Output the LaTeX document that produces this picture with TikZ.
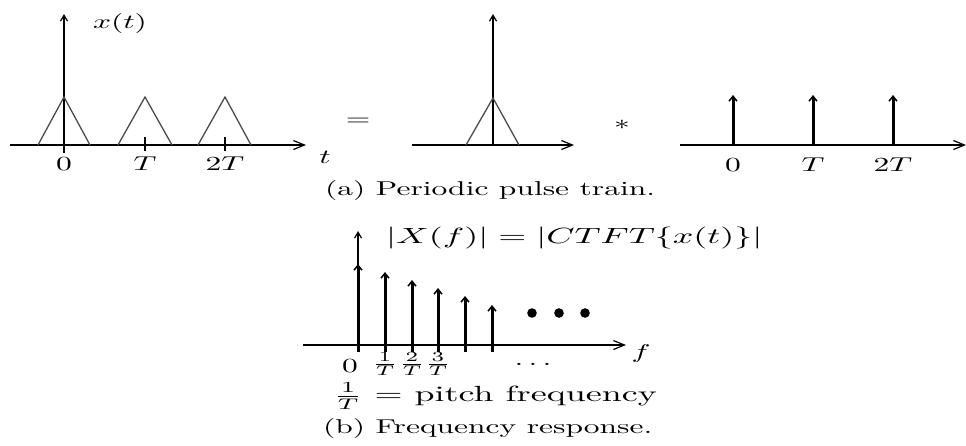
\documentclass[tikz,border=0pt]{standalone}
\usepackage{amsmath}
\usepackage{graphicx}
\usetikzlibrary{arrows.meta}
\newcommand{\tx}[1]{\scalebox{3.15}[2.0]{#1}}
\newcommand{\txl}[1]{\scalebox{3.6}[2.2]{#1}}
\begin{document}
\begin{tikzpicture}[x=1pt,y=-1pt,
  haxis/.style={line width=1.2pt, -{Straight Barb[length=11pt,width=9pt,line width=1.2pt]}},
  vaxis/.style={line width=1.2pt, -{Straight Barb[length=6pt,width=7pt,line width=1.2pt]}},
  imp/.style={line width=3pt, -{Straight Barb[length=5pt,width=8pt,line width=1.5pt]}},
  tri/.style={line width=1.3pt, draw=black!70},
  tick/.style={line width=1.2pt},
  lbl/.style={inner sep=0pt}]
\useasboundingbox (0,0) rectangle (966,445);
% ---------- panel 1
\coordinate (p1l) at (10,145); \coordinate (p1r) at (306,145);
\coordinate (p1b) at (64,153); \coordinate (p1t) at (64,14);
\draw[haxis] (p1l) -- (p1r);
\draw[vaxis] (p1b) -- (p1t);
\draw[tri] (38,145) -- (64,97) -- (90,145);
\draw[tri] (118,145) -- (145,97) -- (172,145);
\draw[tri] (198,145) -- (225,97) -- (251,145);
\draw[tick] (145,137) -- (145,151);
\draw[tick] (225,137) -- (225,151);
\node[lbl] (xt) at (120,23) {\tx{$x(t)$}};
\node[lbl] (tl) at (325,157) {\tx{$t$}};
\node[lbl] (l0) at (64,164) {\tx{$0$}};
\node[lbl] (l1) at (145,164) {\tx{$T$}};
\node[lbl] (l2) at (225,164) {\tx{$2T$}};
\node[lbl] (eq) at (358,122) {\tx{$=$}};
% ---------- panel 2
\coordinate (p2l) at (412,145); \coordinate (p2r) at (574,145);
\coordinate (p2b) at (493,145); \coordinate (p2t) at (493,14);
\draw[haxis] (p2l) -- (p2r);
\draw[vaxis] (p2b) -- (p2t);
\draw[tri] (466,145) -- (493,98) -- (519,145);
\node[lbl] (conv) at (622,125) {\tx{$*$}};
% ---------- panel 3
\coordinate (p3l) at (680,145); \coordinate (p3r) at (966,145);
\draw[haxis] (p3l) -- (p3r);
\foreach \x/\n in {733/a,813/b,893/c}{
  \coordinate (i\n b) at (\x,145); \coordinate (i\n t) at (\x,95);
  \draw[imp] (i\n b) -- (i\n t);}
\node[lbl] (m0) at (733,165) {\tx{$0$}};
\node[lbl] (m1) at (813,165) {\tx{$T$}};
\node[lbl] (m2) at (893,165) {\tx{$2T$}};
\node[lbl,anchor=west] (capa) at (325,190) {\tx{(a) Periodic pulse train.}};
% ---------- panel b
\coordinate (qbl) at (303,345); \coordinate (qbr) at (626,345);
\coordinate (qbb) at (358,345); \coordinate (qbt) at (358,231);
\draw[haxis] (qbl) -- (qbr);
\draw[vaxis] (qbb) -- (qbt);
\foreach \x/\y/\n in {358/264/a,385/272/b,412/280/c,438/288/d,465/296/e,492/305/f}{
  \coordinate (f\n b) at (\x,352); \coordinate (f\n t) at (\x,\y);
  \draw[imp] (f\n b) -- (f\n t);}
\foreach \x/\n in {532/a,559/b,585/c}{
  \fill (\x,313) circle (4.8);}
\node[lbl,anchor=west] (Xf) at (386,238) {\txl{$|X(f)| = |CTFT\{x(t)\}|$}};
\node[lbl] (fl) at (641,353) {\tx{$f$}};
\node[lbl] (n0) at (350,366) {\tx{$0$}};
\node[lbl] (n1) at (385,364) {\tx{$\frac{1}{T}$}};
\node[lbl] (n2) at (412,364) {\tx{$\frac{2}{T}$}};
\node[lbl] (n3) at (438,364) {\tx{$\frac{3}{T}$}};
\node[lbl] (nd) at (533,364) {\tx{$\ldots$}};
\node[lbl,anchor=west] (pf) at (333,396) {\txl{$\frac{1}{T}$ = pitch frequency}};
\node[lbl,anchor=west] (capb) at (323,428) {\tx{(b) Frequency response.}};
\end{tikzpicture}
\end{document}
